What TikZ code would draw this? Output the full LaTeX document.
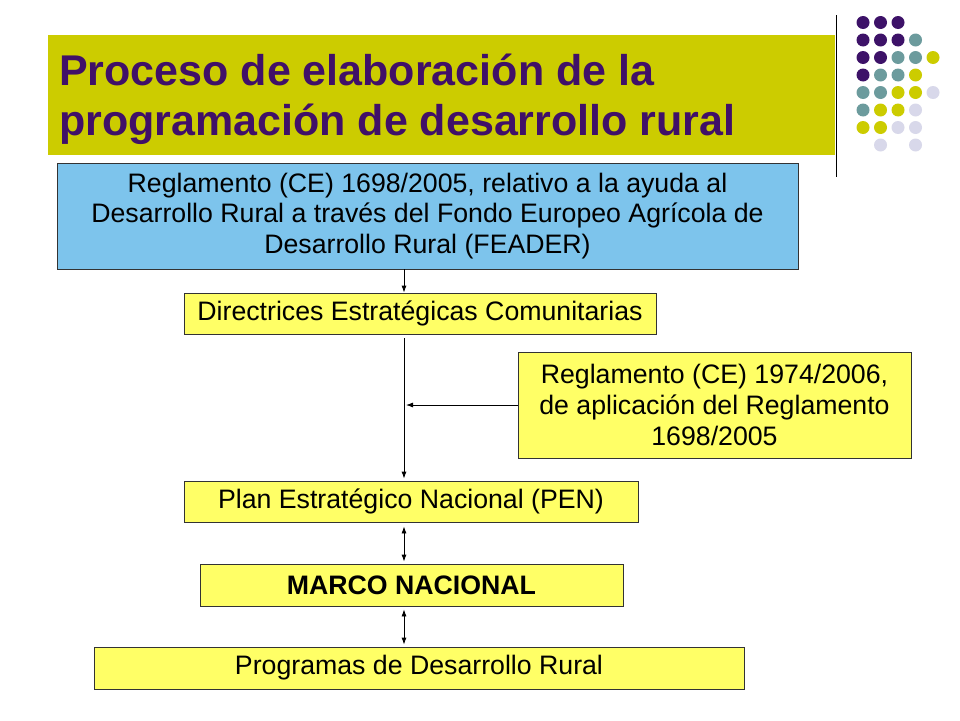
\documentclass[tikz,border=0pt]{standalone}
\usepackage{fontspec}
\setmainfont{Liberation Sans}
\usetikzlibrary{calc,arrows.meta}
\definecolor{band}{RGB}{204,204,0}
\definecolor{titlepurple}{RGB}{64,16,104}
\definecolor{boxblue}{RGB}{125,196,236}
\definecolor{boxyellow}{RGB}{255,255,102}
\definecolor{dotP}{RGB}{61,18,104}
\definecolor{dotT}{RGB}{108,155,157}
\definecolor{dotY}{RGB}{204,204,0}
\definecolor{dotL}{RGB}{216,216,234}
\tikzset{
  box/.style={draw=black!80, line width=0.8pt, inner sep=0pt, align=center,
    font=\fontsize{26.7}{30.7}\selectfont},
  bluebox/.style={box, fill=boxblue},
  yellowbox/.style={box, fill=boxyellow},
  link/.style={->, line width=0.8pt},
  twoway/.style={<->, line width=0.8pt}
}

\begin{document}
\begin{tikzpicture}[>={Latex[length=7pt,width=5pt]}, x=1pt, y=-1pt]
            \fill[white] (0,0) rectangle (960,720);
            % title band
            \fill[band] (48,35) rectangle (835,155);
            \node[anchor=west, inner sep=0pt, align=left, text=titlepurple,
              font=\fontsize{43}{50}\selectfont\bfseries] (title) at (59,99)
              {Proceso de elaboración de la\\programación de desarrollo rural};
            \draw[line width=0.8pt] (836,15) -- (836,177);
            % dots
            \foreach \cx/\cy/\cc in {0/0/dotP,1/0/dotP,2/0/dotP,
                0/1/dotP,1/1/dotP,2/1/dotP,3/1/dotT,
                0/2/dotP,1/2/dotP,2/2/dotT,3/2/dotT,4/2/dotY,
                0/3/dotP,1/3/dotT,2/3/dotT,3/3/dotY,
                0/4/dotT,1/4/dotT,2/4/dotY,3/4/dotY,4/4/dotL,
                0/5/dotT,1/5/dotY,2/5/dotY,3/5/dotL,
                0/6/dotY,1/6/dotY,2/6/dotL,3/6/dotL,
                1/7/dotL,3/7/dotL}
              \fill[\cc] (863+17.5*\cx,22.5+17.5*\cy) circle (6.5);
            % boxes
            \node[bluebox, minimum width=741pt, minimum height=106pt] (reg1) at (427.5,216)
              {Reglamento (CE) 1698/2005, relativo a la ayuda al\\Desarrollo Rural a través del Fondo Europeo Agrícola de\\Desarrollo Rural (FEADER)};
            \node[yellowbox, minimum width=472pt, minimum height=41pt] (dir) at (420,313.5)
              {Directrices Estratégicas Comunitarias};
            \node[yellowbox, minimum width=393pt, minimum height=106pt] (reg2) at (714.5,405)
              {Reglamento (CE) 1974/2006,\\de aplicación del Reglamento\\1698/2005};
            \node[yellowbox, minimum width=454pt, minimum height=41pt] (pen) at (411,501.5)
              {Plan Estratégico Nacional (PEN)};
            \node[yellowbox, minimum width=423pt, minimum height=42pt, font=\fontsize{26.7}{30.7}\selectfont\bfseries] (marco) at (411.5,585)
              {MARCO NACIONAL};
            \node[yellowbox, minimum width=650pt, minimum height=42pt] (prog) at (419,668)
              {Programas de Desarrollo Rural};
            % connectors
            \coordinate (axis) at (404,0);
            \draw[link] (reg1.south -| axis) -- (dir.north -| axis);
            \draw[link] ([yshift=-4pt]dir.south -| axis) -- ([yshift=2pt]pen.north -| axis);
            \draw[link] (reg2.west) -- ([xshift=2pt]reg2.west -| axis);
            \draw[twoway] ([yshift=-4pt]pen.south -| axis) -- ([yshift=2pt]marco.north -| axis);
            \draw[twoway] ([yshift=-3pt]marco.south -| axis) -- ([yshift=2pt]prog.north -| axis);
\end{tikzpicture}
\end{document}
